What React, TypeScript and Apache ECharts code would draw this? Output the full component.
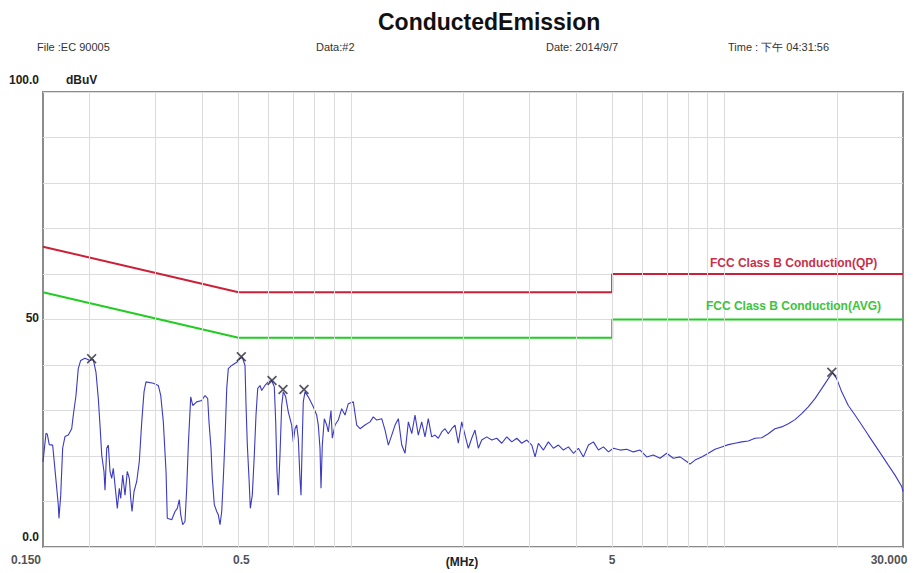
import React, { useEffect, useRef } from 'react';
import * as echarts from 'echarts';

// ---------- data ----------
const FREQ_MHZ = [
  0.150, 0.1528, 0.154, 0.1559, 0.1592, 0.1615, 0.1648, 0.1655, 0.1673, 0.1693,
  0.1718, 0.1753, 0.179, 0.1808, 0.1838, 0.1864, 0.1892, 0.1943, 0.2004, 0.2045,
  0.2079, 0.2109, 0.2131, 0.2154, 0.2184, 0.2198, 0.2221, 0.2243, 0.2267, 0.229,
  0.2313, 0.2352, 0.2371, 0.24, 0.2421, 0.2451, 0.2486, 0.2521, 0.2553, 0.2575,
  0.2596, 0.2628, 0.2672, 0.2715, 0.2756, 0.2795, 0.2829, 0.296, 0.3052, 0.3098,
  0.3148, 0.3201, 0.3226, 0.3315, 0.3383, 0.3431, 0.3474, 0.3504, 0.3547, 0.3598,
  0.3636, 0.3672, 0.3727, 0.3773, 0.3867, 0.3988, 0.407, 0.4138, 0.4171, 0.4223,
  0.4257, 0.431, 0.4374, 0.4417, 0.4464, 0.4511, 0.4556, 0.4604, 0.4652, 0.4698,
  0.4797, 0.4948, 0.5049, 0.5121, 0.5207, 0.524, 0.5282, 0.5337, 0.538, 0.5446,
  0.5514, 0.5572, 0.563, 0.5711, 0.5771, 0.5889, 0.601, 0.6137, 0.6237, 0.6291,
  0.6341, 0.6392, 0.6459, 0.6527, 0.6592, 0.669, 0.6798, 0.6942, 0.7011, 0.7085,
  0.7159, 0.723, 0.7306, 0.7352, 0.7411, 0.7456, 0.7535, 0.769, 0.793, 0.8098,
  0.8179, 0.8265, 0.8316, 0.8383, 0.8487, 0.8613, 0.8699, 0.8845, 0.8916, 0.9065,
  0.9251, 0.9447, 0.9641, 0.984, 1.0148, 1.0363, 1.0576, 1.0907, 1.1249, 1.148,
  1.1723, 1.209, 1.2339, 1.2592, 1.2859, 1.3123, 1.3393, 1.3676, 1.3957, 1.4244,
  1.4546, 1.484, 1.5144, 1.5465, 1.5782, 1.6106, 1.6447, 1.6785, 1.713, 1.7493,
  1.7852, 1.8219, 1.8605, 1.8987, 1.9377, 1.9788, 2.0195, 2.061, 2.1047, 2.1479,
  2.1921, 2.2385, 2.3085, 2.3808, 2.4554, 2.5323, 2.6117, 2.6936, 2.7777, 2.8647,
  2.9546, 3.047, 3.1097, 3.1736, 3.2729, 3.3753, 3.4809, 3.59, 3.7025, 3.8184,
  3.938, 4.0613, 4.1883, 4.3196, 4.4547, 4.5942, 4.7381, 4.8863, 5.0393, 5.249,
  5.4701, 5.6958, 5.9364,
  6.1862, 6.4427, 6.7142, 6.9969, 7.2873, 7.5944, 7.9145, 8.0768, 8.3297, 8.6805,
  9.0411, 9.4221, 9.8189, 10.227, 10.657, 11.106, 11.567, 12.054, 12.562, 13.084,
  13.635, 14.209, 14.799, 15.423, 16.072, 16.738, 17.443, 18.178, 18.933, 19.453,
  19.938, 20.562, 21.415, 22.317, 23.257, 24.222, 25.243, 26.307, 27.399, 28.554,
  29.763, 30.0,
];

const LEVEL_DBUV = [
  18.7, 25, 24.8, 22.5, 22.4, 17, 9.3, 6.3, 11.4, 21.7,
  24.3, 24.6, 26, 29, 33.3, 39.2, 41, 41.5, 41, 41.2,
  38.4, 32.6, 26.8, 20.2, 16.6, 12.5, 21.7, 22.4, 16.6, 15.1,
  17.3, 11.4, 8.5, 12.9, 10.7, 15.8, 11.4, 16.6, 15.1, 10.7,
  7.8, 12.2, 14.4, 18.8, 27.5, 34.1, 36.3, 36, 35.5, 33.3,
  27.5, 16.6, 6.3, 6, 7.8, 8.5, 10.4, 7.1, 4.9, 5.6,
  12.9, 22.4, 33, 31.1, 31.9, 32.2, 33.3, 32.6, 27.5, 21.7,
  15.1, 9.3, 7.8, 7.1, 4.9, 7.8, 15.1, 23.9, 34.8, 39.2,
  39.9, 40.6, 41.4, 41.7, 39.9, 31.1, 22.4, 15.1, 8.5, 11.4,
  20.2, 29, 34.8, 35.5, 34.4, 35.5, 36.3, 36.6, 35.2, 27.5,
  16.6, 11.4, 20.2, 31.1, 34.1, 33, 29.7, 26.8, 23.1, 26,
  26.8, 23.9, 15.1, 11.4, 23.9, 31.9, 34.1, 33, 30.8, 29,
  26.8, 21.7, 12.9, 22.4, 28.2, 26.8, 25.3, 30, 23.9, 26.8,
  27.9, 30.4, 29, 31.5, 31.9, 26.8, 26, 26.8, 27.5, 28.6,
  27.9, 28.2, 25.7, 22.4, 24.6, 26.8, 28.2, 22.4, 20.6, 27.5,
  24.9, 29, 24.6, 27.5, 24.2, 28.2, 24.2, 24.6, 23.9, 25.3,
  26, 24.9, 26, 26.8, 22.8, 27.5, 24.6, 21.7, 23.9, 25.7,
  21.7, 23.5, 24.2, 23.5, 23.9, 22.8, 24.2, 23.1, 23.9, 22.8,
  23.5, 22.4, 19.8, 22.8, 21.3, 23.1, 21.7, 22.4, 21.3, 22,
  20.6, 21.7, 19.8, 22.4, 23.1, 21.3, 22, 20.9, 21.7, 21.3,
  21.5, 20.9, 21.3,
  19.8, 20.2, 19.5, 20.6, 19.5, 19.8, 18.8, 18.2, 19.1, 19.8,
  20.6, 21.5, 22, 22.5, 22.8, 23.1, 23.3, 23.9, 24, 24.9,
  26, 26.4, 27.1, 28, 29.3, 30.8, 32.6, 34.8, 37, 38.3,
  37, 34.1, 31.1, 29, 26.8, 24.6, 22.4, 20.2, 18, 15.8,
  13.3, 12.2,
];

const PEAK_FREQ_MHZ = [0.2024, 0.509, 0.615, 0.658, 0.749, 19.35];
const PEAK_LEVEL_DBUV = [41.4, 41.8, 36.6, 34.6, 34.6, 38.4];

const LIMIT_FREQ_MHZ = [0.15, 0.5, 5, 5, 30];
const QP_LIMIT_DBUV = [66, 56, 56, 60, 60];
const AVG_LIMIT_DBUV = [56, 46, 46, 50, 50];
const QP_NAME = 'FCC Class B Conduction(QP)';
const AVG_NAME = 'FCC Class B Conduction(AVG)';

const GRID_FREQ_MHZ = [0.2, 0.3, 0.4, 0.5, 0.6, 0.7, 0.8, 0.9, 1, 2, 3, 4, 5, 6, 7, 8, 9, 10, 20];
const X_TICK_FREQ_MHZ = [0.15, 0.5, 5, 30];
const X_TICK_LABELS = ['0.150', '0.5', '5', '30.000'];
const X_AXIS_NAME = '(MHz)';
const Y_TICK_LABELS: Record<number, string> = { 0: '0.0', 50: '50' };
const Y_TOP_LABEL = '100.0';
const Y_UNIT = 'dBuV';

const TITLE = 'ConductedEmission';
const HEADER_TEXTS = ['File :EC 90005', 'Data:#2', 'Date: 2014/9/7', 'Time : 下午 04:31:56'];

// ---------- styles ----------
const FONT = '"Liberation Sans", Arial, sans-serif';
const HEADER_X = [37, 316, 546, 728];
const TICK_SHIFT = [-17, 3, 0, -14];

export default function App() {
  const ref = useRef<HTMLDivElement>(null);

  useEffect(() => {
    document.body.style.margin = '0';
    if (!ref.current) return;
    const chart = echarts.init(ref.current, undefined, { renderer: 'svg' });

    const curve = FREQ_MHZ.map((f, i) => [f, LEVEL_DBUV[i]]);
    const peaks = PEAK_FREQ_MHZ.map((f, i) => [f, PEAK_LEVEL_DBUV[i]]);
    const qp = LIMIT_FREQ_MHZ.map((f, i) => [f, QP_LIMIT_DBUV[i]]);
    const avg = LIMIT_FREQ_MHZ.map((f, i) => [f, AVG_LIMIT_DBUV[i]]);

    const crossPath =
      'path://M0,1.2L1.2,0L5,3.8L8.8,0L10,1.2L6.2,5L10,8.8L8.8,10L5,6.2L1.2,10L0,8.8L3.8,5Z';

    const option: any = {
      animation: false,
      backgroundColor: '#ffffff',
      title: {
        text: TITLE,
        left: 373,
        top: 5,
        textStyle: { fontFamily: FONT, fontSize: 23, fontWeight: 'bold', color: '#111' },
      },
      graphic: [
        ...HEADER_TEXTS.map((t, i) => ({
          type: 'text',
          left: HEADER_X[i],
          top: 41,
          style: { text: t, fontFamily: FONT, fontSize: 11, fill: '#333' },
        })),
        {
          type: 'text',
          left: 9,
          top: 74,
          style: { text: Y_TOP_LABEL, fontFamily: FONT, fontSize: 12, fontWeight: 'bold', fill: '#222' },
        },
        {
          type: 'text',
          left: 66,
          top: 74,
          style: { text: Y_UNIT, fontFamily: FONT, fontSize: 12, fontWeight: 'bold', fill: '#222' },
        },
      ],
      grid: {
        left: 43,
        top: 92,
        right: 14,
        bottom: 24,
        show: true,
        borderColor: '#8c8c8c',
        borderWidth: 2,
        backgroundColor: 'transparent',
      },
      xAxis: {
        type: 'log',
        logBase: 10,
        min: 0.15,
        max: 30,
        axisLine: { show: false },
        axisTick: { show: false },
        axisLabel: { show: false },
        splitLine: { show: false },
        name: X_AXIS_NAME,
        nameLocation: 'middle',
        nameGap: 9,
        nameTextStyle: {
          fontFamily: FONT,
          fontSize: 12,
          fontWeight: 'bold',
          color: '#222',
          padding: [0, 22, 0, 0],
        },
      },
      yAxis: {
        type: 'value',
        min: 0,
        max: 100,
        interval: 10,
        axisLine: { show: false },
        axisTick: { show: false },
        splitLine: { show: true, lineStyle: { color: '#dcdcdc', width: 1 } },
        axisLabel: {
          margin: 4,
          fontFamily: FONT,
          fontSize: 12,
          fontWeight: 'bold',
          color: '#222',
          formatter: (v: number) => {
            const t = Y_TICK_LABELS[v];
            if (!t) return '';
            return v === 0 ? `{z|${t}}` : `{m|${t}}`;
          },
          rich: {
            z: { fontFamily: FONT, fontSize: 12, fontWeight: 'bold', color: '#222', padding: [0, 0, 20, 0] },
            m: { fontFamily: FONT, fontSize: 12, fontWeight: 'bold', color: '#222', padding: [0, 0, 4, 0] },
          },
        },
      },
      series: [
        {
          type: 'line',
          data: [],
          z: 1,
          silent: true,
          markLine: {
            silent: true,
            symbol: 'none',
            label: { show: false },
            lineStyle: { color: '#dcdcdc', width: 1, type: 'solid' },
            data: GRID_FREQ_MHZ.map((f) => ({ xAxis: f })),
          },
        },
        {
          name: QP_NAME,
          type: 'line',
          data: qp,
          z: 3,
          symbol: 'none',
          lineStyle: { color: '#cc2038', width: 2 },
          markPoint: {
            symbol: 'circle',
            symbolSize: 0,
            data: [{ coord: [25.6, 60] }],
            label: {
              show: true,
              position: 'top',
              distance: 5,
              align: 'right',
              formatter: QP_NAME,
              fontFamily: FONT,
              fontSize: 12,
              fontWeight: 'bold',
              color: '#c8304a',
            },
          },
        },
        {
          name: AVG_NAME,
          type: 'line',
          data: avg,
          z: 3,
          symbol: 'none',
          lineStyle: { color: '#22cc22', width: 2 },
          markPoint: {
            symbol: 'circle',
            symbolSize: 0,
            data: [{ coord: [26.2, 50] }],
            label: {
              show: true,
              position: 'top',
              distance: 8,
              align: 'right',
              formatter: AVG_NAME,
              fontFamily: FONT,
              fontSize: 12,
              fontWeight: 'bold',
              color: '#3cc43c',
            },
          },
        },
        {
          name: 'Measured',
          type: 'line',
          data: curve,
          z: 4,
          symbol: 'none',
          lineStyle: { color: '#3a3ac4', width: 1.1 },
        },
        {
          name: 'Peaks',
          type: 'scatter',
          data: peaks,
          z: 5,
          symbol: crossPath,
          symbolSize: 10,
          itemStyle: { color: '#2a2a3a' },
        },
        {
          name: 'xTicks',
          type: 'scatter',
          data: X_TICK_FREQ_MHZ.map((f, i) => ({
            value: [f, 0],
            label: { offset: [TICK_SHIFT[i], 0] },
          })),
          symbolSize: 0,
          clip: false,
          silent: true,
          label: {
            show: true,
            position: 'bottom',
            distance: 7,
            formatter: (p: any) => X_TICK_LABELS[p.dataIndex],
            fontFamily: FONT,
            fontSize: 12,
            fontWeight: 'bold',
            color: '#222',
          },
        },
      ],
    };

    chart.setOption(option);
    return () => chart.dispose();
  }, []);

  return <div ref={ref} style={{ width: 917, height: 573 }} />;
}
